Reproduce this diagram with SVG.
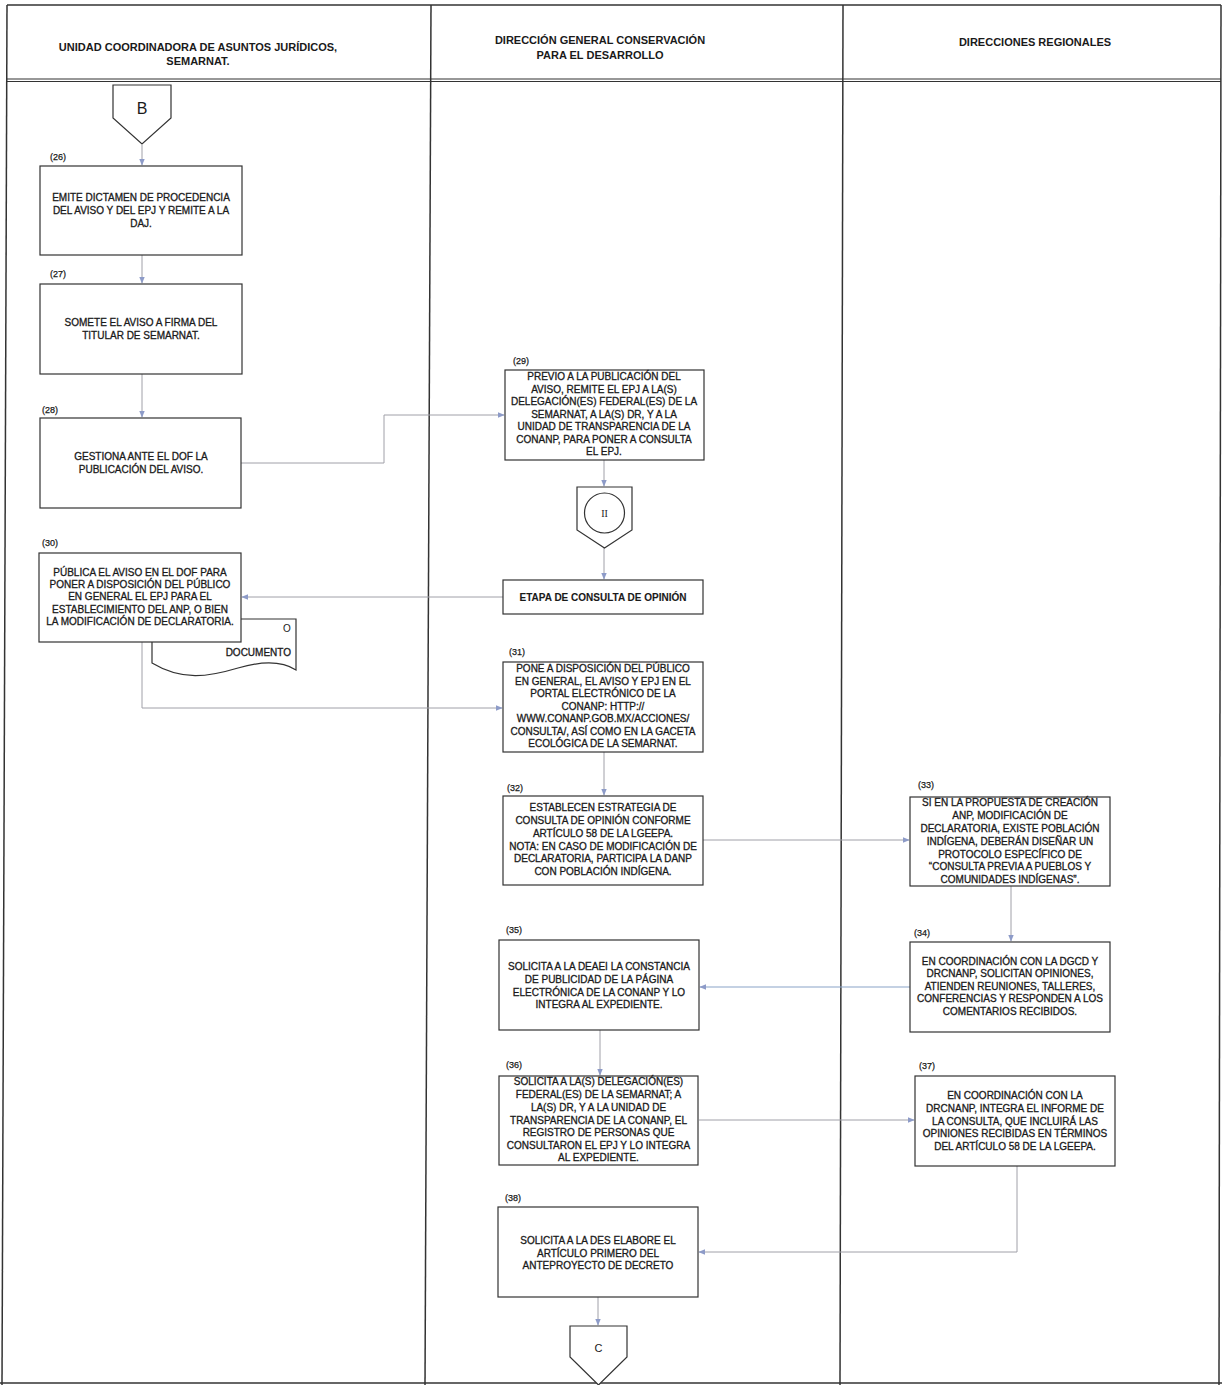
<svg xmlns="http://www.w3.org/2000/svg" width="1222" height="1385" viewBox="0 0 1222 1385">
<style>
.frame{fill:none;stroke:#333;stroke-width:1.5}
.hdr{font-family:"Liberation Sans",Arial,sans-serif;font-size:11px;font-weight:bold;fill:#1a1a1a;text-anchor:middle}
.box{fill:#fff;stroke:#333;stroke-width:1.2}
.t{font-family:"Liberation Sans",Arial,sans-serif;font-size:10px;fill:#1a1a1a;stroke:#1a1a1a;stroke-width:0.3;text-anchor:middle}
.lbl{font-family:"Liberation Sans",Arial,sans-serif;font-size:9px;fill:#1a1a1a;stroke:#1a1a1a;stroke-width:0.25}
.con{fill:none;stroke:#a0a0a8;stroke-width:1}
.conb{fill:none;stroke:#8aa4c8;stroke-width:1.2}
</style>
<defs>
<marker id="ah" viewBox="0 0 10 10" refX="9" refY="5" markerWidth="7" markerHeight="7" orient="auto" markerUnits="userSpaceOnUse">
<path d="M0,1 L10,5 L0,9 z" fill="#8d9bc8"/>
</marker>
</defs>
<rect width="1222" height="1385" fill="#fff"/>
<g id="lanes">
<line class="frame" x1="7" y1="5" x2="1221" y2="5"/>
<line class="frame" x1="7" y1="5" x2="2" y2="1385"/>
<line class="frame" x1="1221" y1="5" x2="1219" y2="1385"/>
<line class="frame" x1="431" y1="5" x2="425" y2="1385"/>
<line class="frame" x1="843" y1="5" x2="840" y2="1385"/>
<line class="frame" x1="7" y1="79" x2="1221" y2="79" style="stroke-width:1.2"/>
<line class="frame" x1="7" y1="81.5" x2="1221" y2="81.5" style="stroke-width:1.2"/>
<line class="frame" x1="0" y1="1383" x2="1222" y2="1383"/>
<text class="hdr" x="198" y="51">UNIDAD COORDINADORA DE ASUNTOS JURÍDICOS,</text>
<text class="hdr" x="198" y="65">SEMARNAT.</text>
<text class="hdr" x="600" y="44">DIRECCIÓN GENERAL CONSERVACIÓN</text>
<text class="hdr" x="600" y="59">PARA EL DESARROLLO</text>
<text class="hdr" x="1035" y="46">DIRECCIONES REGIONALES</text>
</g>
<g id="connectors">
<path class="con" d="M142,145 V165" marker-end="url(#ah)"/>
<path class="con" d="M142,255 V283" marker-end="url(#ah)"/>
<path class="con" d="M142,374 V417" marker-end="url(#ah)"/>
<path class="con" d="M241,463 H384 V415 H504" marker-end="url(#ah)"/>
<path class="con" d="M604,460 V486" marker-end="url(#ah)"/>
<path class="con" d="M604,548 V579" marker-end="url(#ah)"/>
<path class="con" d="M503,597 H242" marker-end="url(#ah)"/>
<path class="con" d="M142,642 V708 H502" marker-end="url(#ah)"/>
<path class="con" d="M604,752 V795" marker-end="url(#ah)"/>
<path class="con" d="M703,840 H909" marker-end="url(#ah)"/>
<path class="con" d="M1011,886 V941" marker-end="url(#ah)"/>
<path class="conb" d="M910,987 H700" marker-end="url(#ah)"/>
<path class="con" d="M600,1030 V1075" marker-end="url(#ah)"/>
<path class="con" d="M699,1120 H914" marker-end="url(#ah)"/>
<path class="con" d="M1017,1166 V1252 H699" marker-end="url(#ah)"/>
<path class="con" d="M598,1297 V1325" marker-end="url(#ah)"/>
</g>
<g id="conB">
<path class="box" d="M113,85 H171 V118 L142,144 L113,118 Z"/>
<text x="142" y="114" style="font-family:'Liberation Sans',Arial,sans-serif;font-size:16px;fill:#1a1a1a;text-anchor:middle">B</text>
</g>
<g id="n26">
<text class="lbl" x="50" y="160">(26)</text>
<rect class="box" x="40" y="166" width="202" height="89"/>
<text class="t" x="141" y="200.5">EMITE DICTAMEN DE PROCEDENCIA</text>
<text class="t" x="141" y="213.5">DEL AVISO Y DEL EPJ Y REMITE A LA</text>
<text class="t" x="141" y="226.5">DAJ.</text>
</g>
<g id="n27">
<text class="lbl" x="50" y="277">(27)</text>
<rect class="box" x="40" y="284" width="202" height="90"/>
<text class="t" x="141" y="325.5">SOMETE EL AVISO A FIRMA DEL</text>
<text class="t" x="141" y="338.5">TITULAR DE SEMARNAT.</text>
</g>
<g id="n28">
<text class="lbl" x="42" y="413">(28)</text>
<rect class="box" x="40" y="418" width="201" height="90"/>
<text class="t" x="141" y="459.5">GESTIONA ANTE EL DOF LA</text>
<text class="t" x="141" y="472.5">PUBLICACIÓN DEL AVISO.</text>
</g>
<g id="doc">
<path class="box" d="M152,619 H296 V670 C282,661 262,661 238,668 C208,677 182,681 152,663 Z"/>
<text x="287" y="632" style="font-family:'Liberation Sans',Arial,sans-serif;font-size:10px;fill:#1a1a1a;text-anchor:middle">O</text>
<text x="291" y="656" style="font-family:'Liberation Sans',Arial,sans-serif;font-size:10px;fill:#1a1a1a;stroke:#1a1a1a;stroke-width:0.3;text-anchor:end">DOCUMENTO</text>
</g>
<g id="n30">
<text class="lbl" x="42" y="546">(30)</text>
<rect class="box" x="39" y="553" width="202" height="89"/>
<text class="t" x="140" y="575.5">PÚBLICA EL AVISO EN EL DOF PARA</text>
<text class="t" x="140" y="587.5">PONER A DISPOSICIÓN DEL PÚBLICO</text>
<text class="t" x="140" y="599.5">EN GENERAL EL EPJ PARA EL</text>
<text class="t" x="140" y="612.5">ESTABLECIMIENTO DEL ANP, O BIEN</text>
<text class="t" x="140" y="624.5">LA MODIFICACIÓN DE DECLARATORIA.</text>
</g>
<g id="n29">
<text class="lbl" x="513" y="364">(29)</text>
<rect class="box" x="505" y="370" width="199" height="90"/>
<text class="t" x="604" y="380">PREVIO A LA PUBLICACIÓN DEL</text>
<text class="t" x="604" y="392.5">AVISO, REMITE EL EPJ A LA(S)</text>
<text class="t" x="604" y="405">DELEGACIÓN(ES) FEDERAL(ES) DE LA</text>
<text class="t" x="604" y="417.5">SEMARNAT, A LA(S) DR, Y A LA</text>
<text class="t" x="604" y="430">UNIDAD DE TRANSPARENCIA DE LA</text>
<text class="t" x="604" y="442.5">CONANP, PARA PONER A CONSULTA</text>
<text class="t" x="604" y="455">EL EPJ.</text>
</g>
<g id="conII">
<path class="box" d="M577,487 H632 V530 L604.5,548 L577,530 Z"/>
<circle class="box" cx="604.5" cy="513" r="20"/>
<text x="604.5" y="517" style="font-family:'Liberation Serif',serif;font-size:10px;fill:#1a1a1a;text-anchor:middle">II</text>
</g>
<g id="etapa">
<rect class="box" x="503" y="580" width="200" height="34"/>
<text class="t" x="603" y="600.5" style="font-weight:bold;stroke-width:0.1">ETAPA DE CONSULTA DE OPINIÓN</text>
</g>
<g id="n31">
<text class="lbl" x="509" y="655">(31)</text>
<rect class="box" x="503" y="662" width="200" height="90"/>
<text class="t" x="603" y="672">PONE A DISPOSICIÓN DEL PÚBLICO</text>
<text class="t" x="603" y="684.5">EN GENERAL, EL AVISO Y EPJ EN EL</text>
<text class="t" x="603" y="697">PORTAL ELECTRÓNICO DE LA</text>
<text class="t" x="603" y="709.5">CONANP: HTTP://</text>
<text class="t" x="603" y="722">WWW.CONANP.GOB.MX/ACCIONES/</text>
<text class="t" x="603" y="734.5">CONSULTA/, ASÍ COMO EN LA GACETA</text>
<text class="t" x="603" y="747">ECOLÓGICA DE LA SEMARNAT.</text>
</g>
<g id="n32">
<text class="lbl" x="507" y="791">(32)</text>
<rect class="box" x="503" y="796" width="200" height="89"/>
<text class="t" x="603" y="810.5">ESTABLECEN ESTRATEGIA DE</text>
<text class="t" x="603" y="823.5">CONSULTA DE OPINIÓN CONFORME</text>
<text class="t" x="603" y="836.5">ARTÍCULO 58 DE LA LGEEPA.</text>
<text class="t" x="603" y="849.5">NOTA: EN CASO DE MODIFICACIÓN DE</text>
<text class="t" x="603" y="861.5">DECLARATORIA, PARTICIPA LA DANP</text>
<text class="t" x="603" y="874.5">CON POBLACIÓN INDÍGENA.</text>
</g>
<g id="n33">
<text class="lbl" x="918" y="788">(33)</text>
<rect class="box" x="910" y="797" width="200" height="89"/>
<text class="t" x="1010" y="805.5">SI EN LA PROPUESTA DE CREACIÓN</text>
<text class="t" x="1010" y="818.5">ANP, MODIFICACIÓN DE</text>
<text class="t" x="1010" y="831.5">DECLARATORIA, EXISTE POBLACIÓN</text>
<text class="t" x="1010" y="844.5">INDÍGENA, DEBERÁN DISEÑAR UN</text>
<text class="t" x="1010" y="857.5">PROTOCOLO ESPECÍFICO DE</text>
<text class="t" x="1010" y="869.5">“CONSULTA PREVIA A PUEBLOS Y</text>
<text class="t" x="1010" y="882.5">COMUNIDADES INDÍGENAS”.</text>
</g>
<g id="n34">
<text class="lbl" x="914" y="936">(34)</text>
<rect class="box" x="910" y="942" width="200" height="90"/>
<text class="t" x="1010" y="964.5">EN COORDINACIÓN CON LA DGCD Y</text>
<text class="t" x="1010" y="976.5">DRCNANP, SOLICITAN OPINIONES,</text>
<text class="t" x="1010" y="989.5">ATIENDEN REUNIONES, TALLERES,</text>
<text class="t" x="1010" y="1001.5">CONFERENCIAS Y RESPONDEN A LOS</text>
<text class="t" x="1010" y="1014.5">COMENTARIOS RECIBIDOS.</text>
</g>
<g id="n35">
<text class="lbl" x="506" y="933">(35)</text>
<rect class="box" x="499" y="940" width="200" height="90"/>
<text class="t" x="599" y="969.5">SOLICITA A LA DEAEI LA CONSTANCIA</text>
<text class="t" x="599" y="982.5">DE PUBLICIDAD DE LA PÁGINA</text>
<text class="t" x="599" y="995.5">ELECTRÓNICA DE LA CONANP Y LO</text>
<text class="t" x="599" y="1007.5">INTEGRA AL EXPEDIENTE.</text>
</g>
<g id="n36">
<text class="lbl" x="506" y="1068">(36)</text>
<rect class="box" x="499" y="1076" width="199" height="89"/>
<text class="t" x="598.5" y="1084.5">SOLICITA A LA(S) DELEGACIÓN(ES)</text>
<text class="t" x="598.5" y="1097.5">FEDERAL(ES) DE LA SEMARNAT; A</text>
<text class="t" x="598.5" y="1110.5">LA(S) DR, Y A LA UNIDAD DE</text>
<text class="t" x="598.5" y="1123.5">TRANSPARENCIA DE LA CONANP, EL</text>
<text class="t" x="598.5" y="1135.5">REGISTRO DE PERSONAS QUE</text>
<text class="t" x="598.5" y="1148.5">CONSULTARON EL EPJ Y LO INTEGRA</text>
<text class="t" x="598.5" y="1160.5">AL EXPEDIENTE.</text>
</g>
<g id="n37">
<text class="lbl" x="919" y="1069">(37)</text>
<rect class="box" x="915" y="1076" width="200" height="90"/>
<text class="t" x="1015" y="1098.5">EN COORDINACIÓN CON LA</text>
<text class="t" x="1015" y="1111.5">DRCNANP, INTEGRA EL INFORME DE</text>
<text class="t" x="1015" y="1124.5">LA CONSULTA, QUE INCLUIRÁ LAS</text>
<text class="t" x="1015" y="1136.5">OPINIONES RECIBIDAS EN TÉRMINOS</text>
<text class="t" x="1015" y="1149.5">DEL ARTÍCULO 58 DE LA LGEEPA.</text>
</g>
<g id="n38">
<text class="lbl" x="505" y="1201">(38)</text>
<rect class="box" x="498" y="1207" width="200" height="90"/>
<text class="t" x="598" y="1243.5">SOLICITA  A LA DES ELABORE EL</text>
<text class="t" x="598" y="1256.5">ARTÍCULO PRIMERO DEL</text>
<text class="t" x="598" y="1268.5">ANTEPROYECTO DE DECRETO</text>
</g>
<g id="conC">
<path class="box" d="M570,1326 H627 V1357 L598.5,1385 L570,1357 Z"/>
<text x="598.5" y="1352" style="font-family:'Liberation Sans',Arial,sans-serif;font-size:11px;fill:#1a1a1a;text-anchor:middle">C</text>
</g>
</svg>
